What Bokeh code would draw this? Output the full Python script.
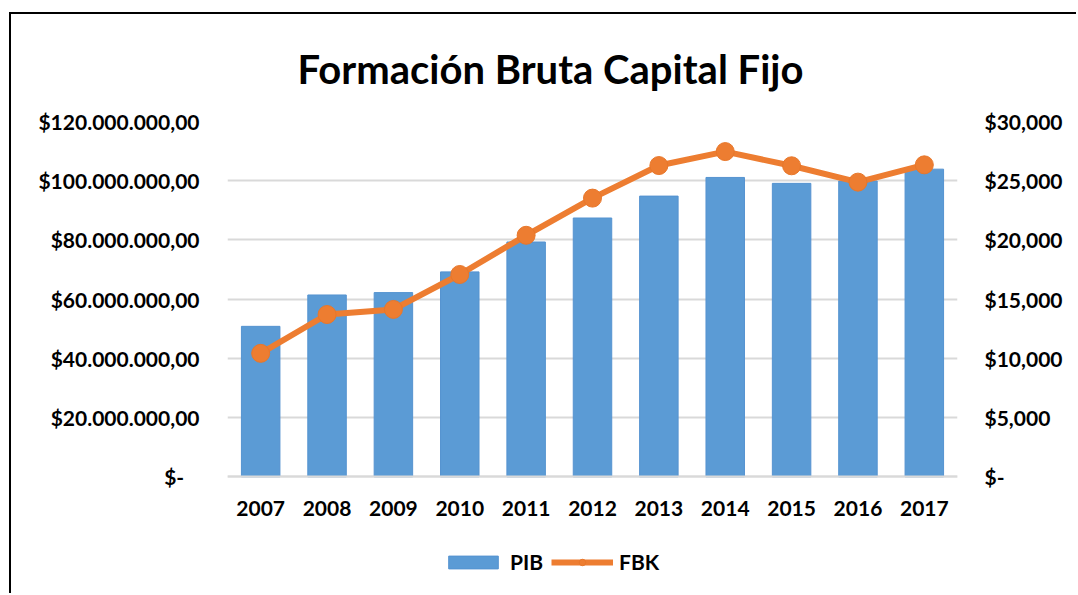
from bokeh.plotting import figure
from bokeh.models import (Range1d, LinearAxis, FixedTicker, CustomJSTickFormatter,
                          Legend, LegendItem, ColumnDataSource, Title)
from bokeh.embed import file_html
from bokeh.resources import INLINE

years = ["2007", "2008", "2009", "2010", "2011", "2012", "2013", "2014", "2015", "2016", "2017"]
pib = [50.8e6, 61.4e6, 62.2e6, 69.2e6, 79.3e6, 87.4e6, 94.8e6, 101.1e6, 99.1e6, 99.9e6, 103.9e6]
fbk = [10420, 13700, 14130, 17080, 20390, 23530, 26280, 27460, 26260, 24880, 26340]
left_ticks = [0, 20e6, 40e6, 60e6, 80e6, 100e6, 120e6]
right_ticks = [0, 5000, 10000, 15000, 20000, 25000, 30000]

FONT = "Lato"
FS = "21px"
src = ColumnDataSource(dict(year=years, pib=pib, fbk=fbk))

# layout geometry (pixels): value axis from 0 to max spans PLOT_H, extra room below for labels/legend
PLOT_H = 356
BELOW_H = 114
LMAX = 120e6
RMAX = 30000
lstart = -LMAX * BELOW_H / PLOT_H
rstart = -RMAX * BELOW_H / PLOT_H

p = figure(x_range=years, y_range=Range1d(lstart, LMAX), width=1067, height=581,
           output_backend="svg", toolbar_location=None,
           min_border_left=216, min_border_right=121, min_border_top=105, min_border_bottom=5)
p.margin = (12, 0, 0, 9)
p.styles = {"border-left": "2px solid #000", "border-top": "2px solid #000"}
p.x_range.range_padding = 0
p.outline_line_color = None
p.background_fill_color = "white"
p.border_fill_color = "white"

p.title = Title(text="Formación Bruta Capital Fijo", align="left", vertical_align="bottom",
                text_font=FONT, text_font_size="40px", text_font_style="bold",
                text_color="#000000", offset=70, standoff=57)

p.extra_y_ranges = {"fbk": Range1d(rstart, RMAX)}

bars = p.vbar(x="year", top="pib", bottom=0, width=0.58, source=src, fill_color="#5b9bd5",
              line_color="#5593d0", line_width=1)
line = p.line(x="year", y="fbk", source=src, y_range_name="fbk", line_color="#ed7d31",
              line_width=6)
pts = p.scatter(x="year", y="fbk", source=src, y_range_name="fbk", size=18,
                fill_color="#ed7d31", line_color="#e8772a", line_width=1)

# left axis
yl = p.yaxis[0]
yl.ticker = FixedTicker(ticks=left_ticks)
yl.formatter = CustomJSTickFormatter(code="""
if (tick == 0) return "$-\u00a0\u00a0\u00a0";
const s = Math.round(tick).toString().replace(/\\B(?=(\\d{3})+(?!\\d))/g, ".");
return "$" + s + ",00";
""")
# right axis
yr = LinearAxis(y_range_name="fbk", ticker=FixedTicker(ticks=right_ticks))
yr.formatter = CustomJSTickFormatter(code="""
if (tick == 0) return "$-";
const s = Math.round(tick).toString().replace(/\\B(?=(\\d{3})+(?!\\d))/g, ",");
return "$" + s;
""")
p.add_layout(yr, "right")

for ax in (yl, yr):
    ax.axis_line_color = None
    ax.major_tick_line_color = None
    ax.minor_tick_line_color = None
    ax.major_label_text_font = FONT
    ax.major_label_text_font_size = FS
    ax.major_label_text_font_style = "bold"
    ax.major_label_text_color = "#000000"
yl.major_label_standoff = 22
yr.major_label_standoff = 21

xa = p.xaxis[0]
xa.fixed_location = 0
xa.axis_line_color = "#d9d9d9"
xa.axis_line_width = 2
xa.major_tick_line_color = None
xa.minor_tick_line_color = None
xa.major_label_text_font = FONT
xa.major_label_text_font_size = FS
xa.major_label_text_font_style = "bold"
xa.major_label_text_color = "#000000"
xa.major_label_standoff = 18

p.xgrid.grid_line_color = None
p.ygrid.grid_line_color = "#d9d9d9"
p.ygrid.grid_line_width = 2
p.ygrid.ticker = FixedTicker(ticks=left_ticks)

legend = Legend(items=[LegendItem(label="PIB", renderers=[bars]),
                       LegendItem(label="FBK", renderers=[line, pts])],
                orientation="horizontal", location=(215, 16),
                label_text_font=FONT, label_text_font_size=FS, label_text_font_style="bold",
                label_text_color="#000000", glyph_width=62, glyph_height=16,
                border_line_color=None, background_fill_alpha=0, spacing=8,
                label_standoff=6, padding=4, margin=0)
p.add_layout(legend, "center")

open("out.html", "w").write(file_html(p, INLINE))
